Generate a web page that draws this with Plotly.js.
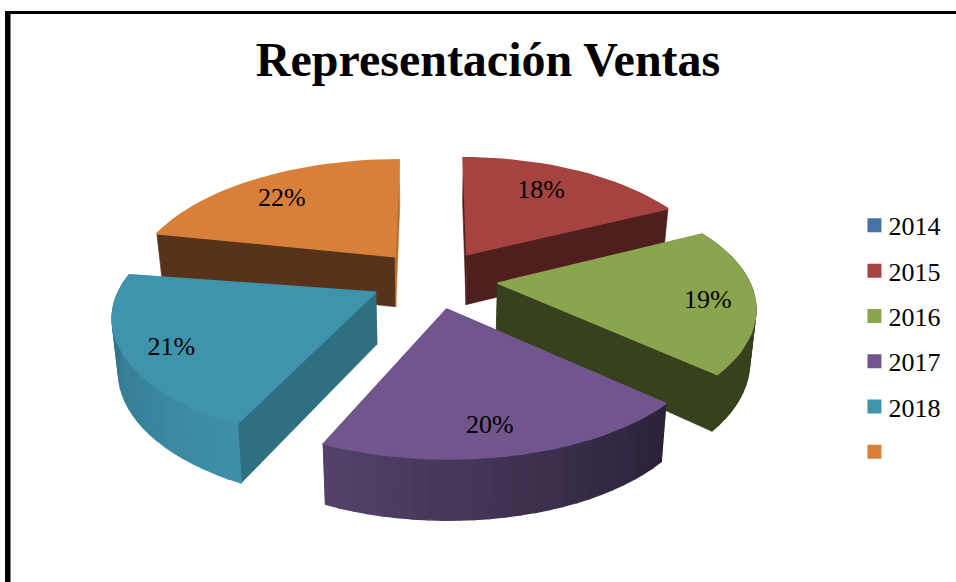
<!DOCTYPE html>
<html>
<head>
<meta charset="utf-8">
<script src="https://cdn.plot.ly/plotly-3.0.1.min.js"></script>
<style>html,body{margin:0;padding:0;background:#fff}#chart{width:956px;height:582px}</style>
</head>
<body>
<div id="chart"></div>
<script>
// ---- data ----
const categories = ['2014', '2015', '2016', '2017', '2018', ' '];
const shares = [0, 18, 19, 20, 21, 22];
const titleText = 'Representación Ventas';
// ---- styles ----
const topColors = ['#4672A8', '#A54340', '#8BA54E', '#70568C', '#3F93AD', '#D8803A'];
const cutColors = ['#2A4465', '#4F1F1E', '#37411D', '#2F2640', '#2F6F82', '#56331A'];
const endCutColors = ['#2A4465', '#4F1F1E', '#37411D', '#2F2640', '#2F6F82', '#B87030'];
const rimLight = ['#2A4465', '#4F1F1E', '#37411D', '#2A2238', '#3F90AB', '#56331A'];
const rimDark = ['#2A4465', '#4F1F1E', '#37411D', '#54426A', '#2F6F82', '#56331A'];
const hasRimWall = [false, false, true, true, true, false];
const labelRadius = [0, 0.70, 0.82, 0.83, 0.84, 0.74];
const labelAngle = [0, -2, 1.5, 1.5, -4, -3.5];   // degrees
const startTrim = [0, 0, -2, 0, 0.5, 1];   // degrees, perspective correction of each edge
const endTrim = [0, 0, -1.5, -2, -2, 0];
const rimScale = [1, 0.96, 0.99, 1, 1.01, 1];
const vanish = [0, 0.6, 0, 0.6, 0, 0.6];
const drawOrder = [5, 1, 2, 4, 3, 0];
const FONT = 'Liberation Serif, Times New Roman, serif';
// projection of the tilted pie
const P = {cx: 434, cy: 278.5, a: 255, b: 117.8, k: 0.2146, explode: 0.25};
const DEG = Math.PI / 180;

function local(theta, r) {
  const u = r * Math.sin(theta), v = r * Math.cos(theta), w = 1 + P.k * v;
  return [P.a * u / w, -P.b * v / w, 1 / w - 1];
}
function bottom(p) {
  const h = 50 + (p[1] - 255) * 0.055;
  return [p[0] + (P.cx - p[0]) * 0.02, p[1] + h];
}
function hex(c) { return [1, 3, 5].map(i => parseInt(c.substr(i, 2), 16)); }
function mix(c1, c2, t) {
  const a = hex(c1), b = hex(c2);
  return 'rgb(' + a.map((x, i) => Math.round(x + (b[i] - x) * t)).join(',') + ')';
}
function poly(pts, color, lw) {
  return {
    type: 'scatter', mode: 'lines', x: pts.map(p => p[0]).concat(pts[0][0]), y: pts.map(p => p[1]).concat(pts[0][1]),
    fill: 'toself', fillcolor: color, line: {color: color, width: lw === undefined ? 0.6 : lw},
    hoverinfo: 'skip', showlegend: false
  };
}

const total = shares.reduce((a, b) => a + b, 0);
const slices = [];
let acc = 0;
shares.forEach((v, i) => {
  const t0 = acc / total * 2 * Math.PI;
  acc += v;
  const t1 = acc / total * 2 * Math.PI;
  const mid = (t0 + t1) / 2;
  const off = local(mid, P.explode);
  slices[i] = {t0: t0 + startTrim[i] * DEG, t1: t1 + endTrim[i] * DEG, mid, dx: off[0], apex: [P.cx + off[0], P.cy + off[1]]};
});
function pointOf(i, t, r) {
  const s = slices[i], q = local(t, r);
  return [s.apex[0] + q[0] * rimScale[i] + s.dx * q[2] * vanish[i], s.apex[1] + q[1]];
}

const traces = [];
drawOrder.forEach(i => {
  if (!shares[i]) return;
  const s = slices[i];
  const a0 = pointOf(i, s.t0, 1), a1 = pointOf(i, s.t1, 1);
  // radial cut faces
  traces.push(poly([s.apex, a0, bottom(a0), bottom(s.apex)], cutColors[i]));
  traces.push(poly([s.apex, a1, bottom(a1), bottom(s.apex)], endCutColors[i]));
  // outer wall, in narrow strips for the shading
  const N = Math.ceil((s.t1 - s.t0) / 0.05);
  if (hasRimWall[i]) {
    for (let n = 0; n < N; n++) {
      const ta = s.t0 + (s.t1 - s.t0) * n / N, tb = s.t0 + (s.t1 - s.t0) * (n + 1) / N;
      const pa = pointOf(i, ta, 1), pb = pointOf(i, tb, 1);
      traces.push(poly([pa, pb, bottom(pb), bottom(pa)], mix(rimDark[i], rimLight[i], 1 - (n + .5) / N), 1.4));
    }
  }
  // top face
  const topPts = [s.apex];
  for (let n = 0; n <= N; n++) topPts.push(pointOf(i, s.t0 + (s.t1 - s.t0) * n / N, 1));
  traces.push(poly(topPts, topColors[i], 1.5));
});

// percentage labels
const lx = [], ly = [], lt = [];
shares.forEach((v, i) => {
  if (!v) return;
  const q = pointOf(i, slices[i].mid + labelAngle[i] * DEG, labelRadius[i]);
  lx.push(q[0]); ly.push(q[1]);
  lt.push(Math.round(v / total * 100) + '%');
});
traces.push({type: 'scatter', mode: 'text', x: lx, y: ly, text: lt, textposition: 'middle center',
  textfont: {family: FONT, size: 26, color: '#000'}, hoverinfo: 'skip', showlegend: false});

// legend entries
categories.forEach((c, i) => {
  traces.push({type: 'scatter', mode: 'markers', x: [null], y: [null], name: c, legendgroup: 'g' + i,
    marker: {symbol: 'square', size: 14, color: topColors[i]}, hoverinfo: 'skip'});
});

const layout = {
  width: 956, height: 582,
  margin: {l: 0, r: 0, t: 0, b: 0},
  paper_bgcolor: '#fff', plot_bgcolor: '#fff',
  title: {text: titleText, x: 0.5105, xanchor: 'center', y: 0.899, yanchor: 'middle',
    font: {family: FONT, size: 48, weight: 'bold', color: '#000'}},
  xaxis: {visible: false, range: [0, 956], fixedrange: true},
  yaxis: {visible: false, range: [582, 0], fixedrange: true},
  legend: {x: 0.8875, xanchor: 'left', y: 0.653, yanchor: 'top', traceorder: 'grouped', tracegroupgap: 8.5,
    font: {family: FONT, size: 26, color: '#000'}, bgcolor: 'rgba(0,0,0,0)', borderwidth: 0},
  showlegend: true,
  shapes: [
    {type: 'rect', xref: 'x', yref: 'y', x0: 5, x1: 10.5, y0: 11, y1: 582, fillcolor: '#000', line: {width: 0}},
    {type: 'rect', xref: 'x', yref: 'y', x0: 5, x1: 956, y0: 11, y1: 14, fillcolor: '#000', line: {width: 0}}
  ]
};
Plotly.newPlot('chart', traces, layout, {displayModeBar: false, staticPlot: true}).then(gd => {
  gd.querySelectorAll('.legend .legendsymbols').forEach(n => n.setAttribute('transform', 'translate(6,0)'));
});
</script>
</body>
</html>
